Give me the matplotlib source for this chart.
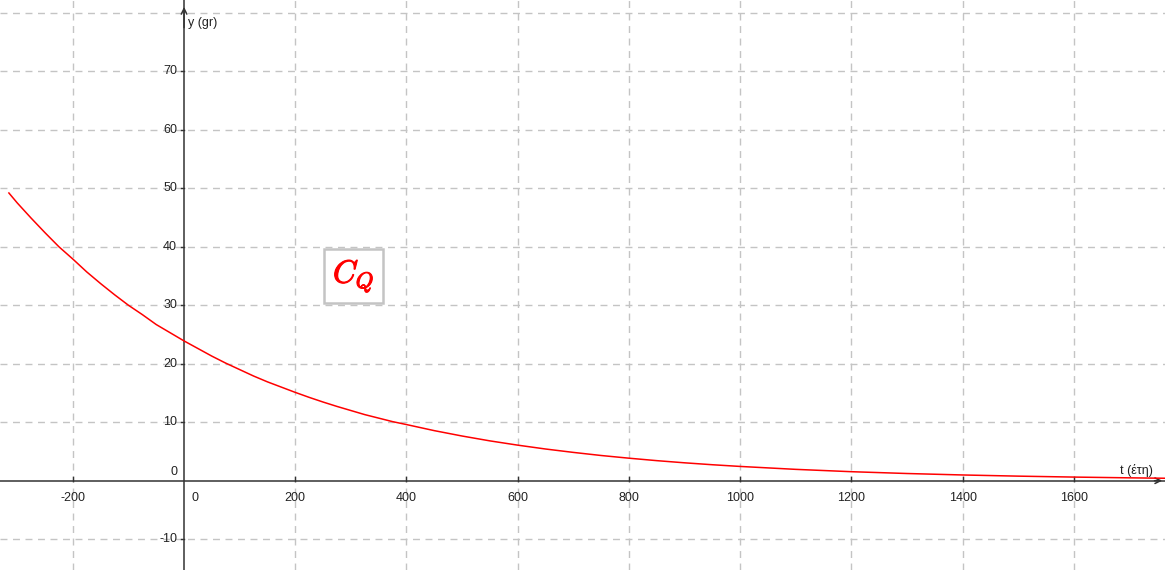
import numpy as np
import matplotlib.pyplot as plt
import matplotlib.patheffects as pe

plt.rcParams['font.family'] = ['Liberation Sans', 'DejaVu Sans']

t_vals = [-315, -300, -275, -250, -225, -200, -175, -150, -125, -100, -75, -50, -25, 0,
          25, 50, 75, 100, 125, 150, 175, 200, 225, 250, 275, 300, 325, 350, 375, 400,
          450, 500, 550, 600, 650, 700, 750, 800, 850, 900, 950, 1000,
          1100, 1200, 1300, 1400, 1500, 1600, 1700, 1764]
y_vals = [49.2, 47.5, 44.9, 42.4, 40.0, 37.9, 35.7, 33.7, 31.8, 30.0, 28.4, 26.7, 25.3, 23.9,
          22.6, 21.3, 20.1, 19.0, 17.9, 16.9, 16.0, 15.1, 14.25, 13.45, 12.7, 12.0, 11.3, 10.7, 10.1, 9.6,
          8.56, 7.64, 6.81, 6.08, 5.42, 4.84, 4.31, 3.85, 3.43, 3.06, 2.73, 2.44,
          1.94, 1.54, 1.23, 0.98, 0.78, 0.62, 0.49, 0.42]

x_ticks = [-200, 0, 200, 400, 600, 800, 1000, 1200, 1400, 1600]
y_ticks = [-10, 0, 10, 20, 30, 40, 50, 60, 70]
x_grid = [-200, 200, 400, 600, 800, 1000, 1200, 1400, 1600]
y_grid = [-10, 10, 20, 30, 40, 50, 60, 70, 80]

fig = plt.figure(figsize=(11.65, 5.70), dpi=100)
ax = fig.add_axes([0, 0, 1, 1])
ax.set_xlim(-331, 1764)
ax.set_ylim(-15.27, 82.2)
ax.axis('off')

grid_style = dict(color='#c4c4c4', lw=1, dashes=(5, 4))
for gx in x_grid:
    ax.axvline(gx, **grid_style, zorder=1)
for gy in y_grid:
    ax.axhline(gy, **grid_style, zorder=1)

# axes through the origin
ax.axhline(0, color='#333333', lw=1.1, zorder=3)
ax.axvline(0, color='#333333', lw=1.1, zorder=3)
ax.annotate('', xy=(1764, 0), xytext=(1740, 0),
            arrowprops=dict(arrowstyle='->', color='#333333', lw=1.1), zorder=4)
ax.annotate('', xy=(0, 81.5), xytext=(0, 77),
            arrowprops=dict(arrowstyle='->', color='#333333', lw=1.1), zorder=4)

# tick marks and labels
for tx in x_ticks:
    if tx != 0:
        ax.plot([tx, tx], [0, 0.6], color='#333333', lw=1, zorder=3)
        ax.annotate(str(tx), (tx, 0), xytext=(0, -8), textcoords='offset points',
                    ha='center', va='top', fontsize=9, color='#222222')
ax.annotate('0', (0, 0), xytext=(5, -8), textcoords='offset points',
            ha='left', va='top', fontsize=9, color='#222222')
for ty in y_ticks:
    if ty != 0:
        ax.plot([-6, 0], [ty, ty], color='#333333', lw=1, zorder=3)
        ax.annotate(str(ty), (0, ty), xytext=(-5, 0), textcoords='offset points',
                    ha='right', va='center', fontsize=9, color='#222222')
ax.annotate('0', (0, 0), xytext=(-5, 2), textcoords='offset points',
            ha='right', va='bottom', fontsize=9, color='#222222')

ax.annotate('y (gr)', (0, 82.2), xytext=(3, -12), textcoords='offset points',
            ha='left', va='top', fontsize=9, color='#222222')
ax.annotate('t (έτη)', (1764, 0), xytext=(-9, 3), textcoords='offset points',
            ha='right', va='bottom', fontsize=9, color='#222222')

# the curve
ax.plot(t_vals, y_vals, color='#ff0000', lw=1.1, zorder=5)

ax.text(305, 35.0, r'$C_Q$', color='#ff0000', fontsize=23, ha='center', va='center',
        math_fontfamily='cm',
        path_effects=[pe.withStroke(linewidth=0.8, foreground='#ff0000')],
        bbox=dict(boxstyle='square,pad=0.28', fc='white', ec='#c4c4c4', lw=1.8), zorder=6)

fig.savefig('out.png', dpi=100)
